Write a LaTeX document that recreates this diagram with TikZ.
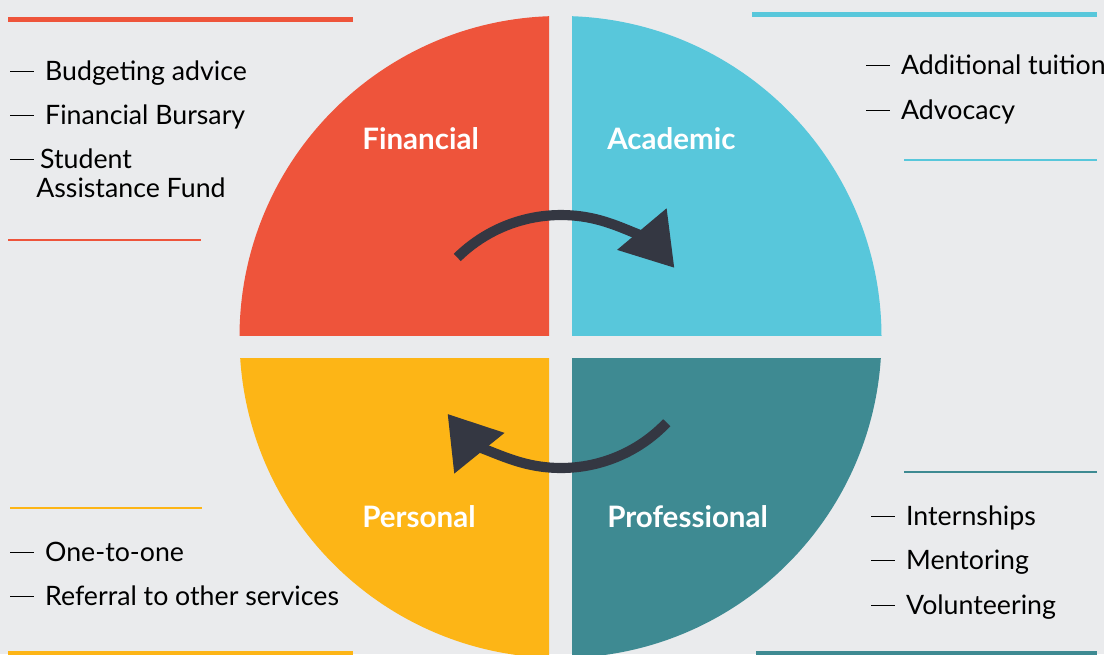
\documentclass[tikz,border=0pt]{standalone}
\usepackage{fontspec}
\setmainfont{Lato}
\usetikzlibrary{arrows.meta, positioning}
\definecolor{FinRed}{HTML}{EE543B}
\definecolor{AcadCyan}{HTML}{58C7DB}
\definecolor{PersGold}{HTML}{FDB516}
\definecolor{ProfTeal}{HTML}{3E8A92}
\definecolor{ArrowInk}{HTML}{343742}
\definecolor{PaperGray}{HTML}{EAEBED}
\newcommand{\longdash}{\rule[5.4pt]{17pt}{1.3pt}}
\newcommand{\dashitem}[1]{\longdash\hspace{7.8pt}#1}

\begin{document}
\begin{tikzpicture}[x=0.025cm, y=-0.025cm,
    quadlabel/.style={text=white, font=\fontsize{21}{25}\selectfont\bfseries,
                      anchor=base west, inner sep=0pt},
    listitem/.style={text=black, font=\fontsize{19}{22}\selectfont,
                     anchor=base west, inner sep=0pt},
    thickrule/.style={line width=3.6pt},
    thinrule/.style={line width=1.1pt},
    cyclearrow/.style={ArrowInk, line width=7.2pt,
                       -{Triangle[length=36pt, width=44pt]}}]

% canvas
\fill[PaperGray] (0,0) rectangle (1104,654);
\useasboundingbox (0,0) rectangle (1104,654);

% one disc, cut into four by the gaps
\coordinate (hub) at (560.5,337);
\begin{scope}
  \clip (200,0) rectangle (549,335.5);
  \fill[FinRed] (hub) circle[radius=321];
\end{scope}
\begin{scope}
  \clip (572,0) rectangle (920,335.5);
  \fill[AcadCyan] (hub) circle[radius=321];
\end{scope}
\begin{scope}
  \clip (200,358) rectangle (549,700);
  \fill[PersGold] (hub) circle[radius=321];
\end{scope}
\begin{scope}
  \clip (572,358) rectangle (920,700);
  \fill[ProfTeal] (hub) circle[radius=321];
\end{scope}

\node[quadlabel] (financial) at (362,149) {Financial};
\node[quadlabel] (academic) at (607,149) {Academic};
\node[quadlabel] (personal) at (362,527) {Personal};
\node[quadlabel] (professional) at (607,527) {Professional};

% cycle arrows
\coordinate (upperhub) at (561,363);
\coordinate (lowerhub) at (561,322);
\coordinate (upperstart) at ([shift={(-134.5:148)}]upperhub);
\coordinate (lowerstart) at ([shift={(43.6:146)}]lowerhub);
\draw[cyclearrow] (upperstart) arc[start angle=-134.5, end angle=-40, radius=148];
\draw[cyclearrow] (lowerstart) arc[start angle=43.6, end angle=141, radius=146];

% rules
\draw[thickrule, FinRed] (8,19.2) -- (353,19.2);
\draw[thinrule, FinRed] (8,240) -- (201,240);
\draw[thickrule, AcadCyan] (752,14.2) -- (1097,14.2);
\draw[thinrule, AcadCyan] (904,160) -- (1097,160);
\draw[thinrule, PersGold] (10,508) -- (202,508);
\draw[thickrule, PersGold] (8,654) -- (353,654);
\draw[thinrule, ProfTeal] (904,472) -- (1097,472);
\draw[thickrule, ProfTeal] (756,654) -- (1097,654);

% financial
\node[listitem] (budget) at (10,80) {\dashitem{Budgeting advice}};
\node[listitem] (bursary) at (10,124) {\dashitem{Financial Bursary}};
\node[listitem] (student) at (10,168) {\longdash\hspace{4.3pt}Student};
\node[listitem] (fund) at (36,197) {Assistance Fund};
% academic
\node[listitem] (tuition) at (866,74) {\dashitem{Additional tuition}};
\node[listitem] (advocacy) at (866,119) {\dashitem{Advocacy}};
% personal
\node[listitem] (onetoone) at (10,561) {\dashitem{One-to-one}};
\node[listitem] (referral) at (10,605) {\dashitem{Referral to other services}};
% professional
\node[listitem] (intern) at (871,525) {\dashitem{Internships}};
\node[listitem] (mentor) at (871,569) {\dashitem{Mentoring}};
\node[listitem] (volunteer) at (871,614) {\dashitem{Volunteering}};
\end{tikzpicture}
\end{document}
